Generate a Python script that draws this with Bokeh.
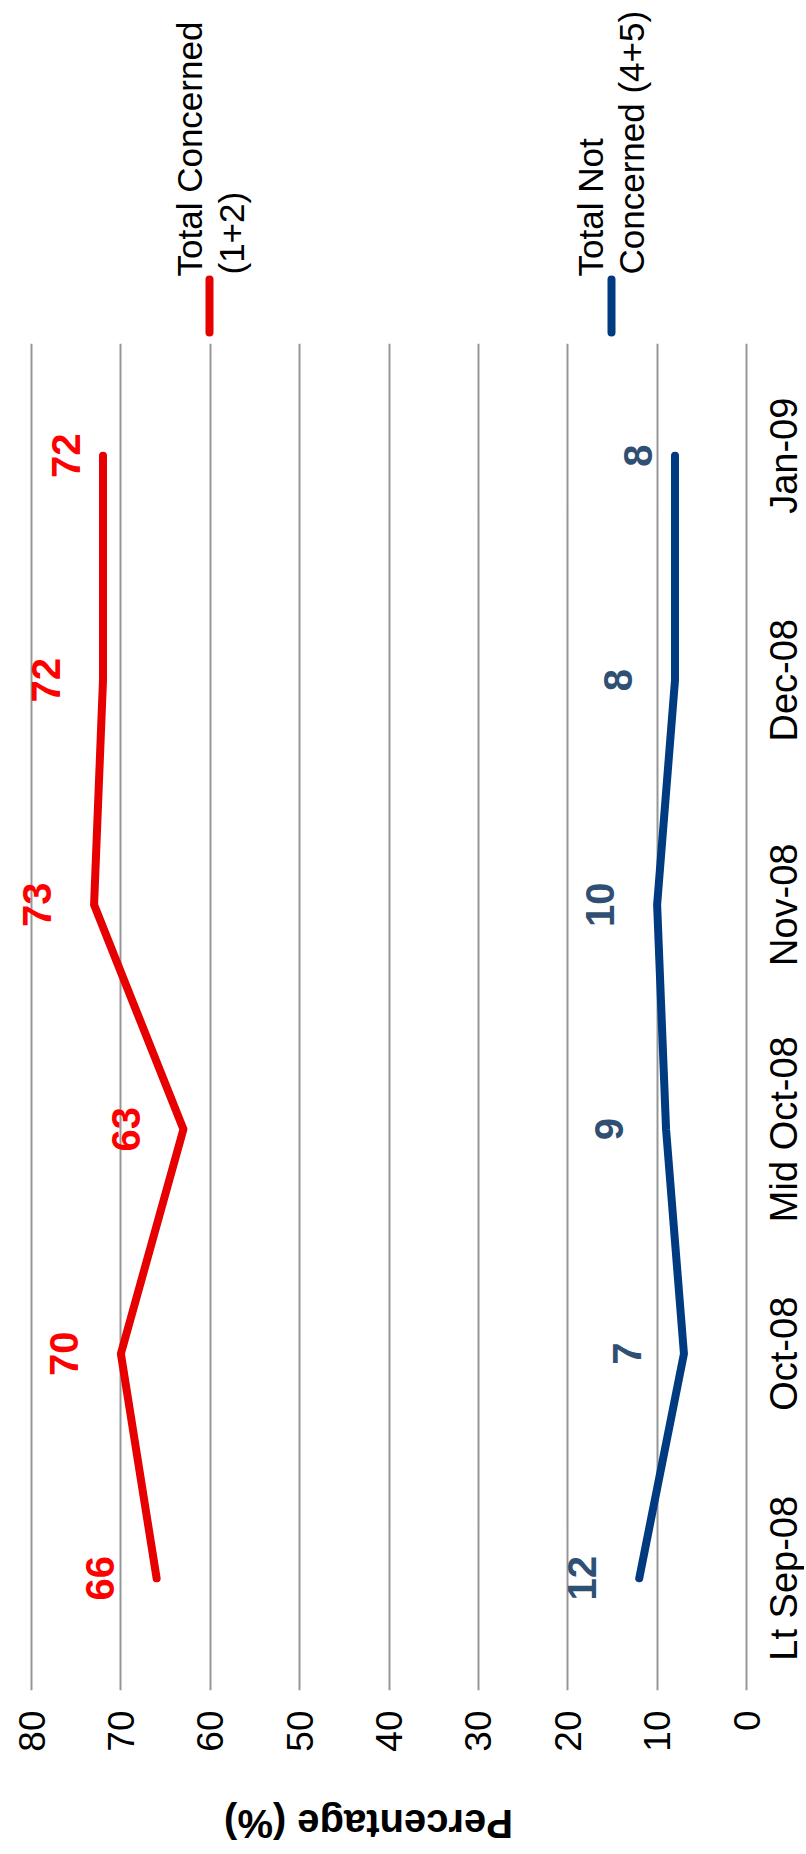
import math
from bokeh.plotting import figure
from bokeh.models import Range1d, FactorRange, FixedTicker, ColumnDataSource
from bokeh.layouts import column
from bokeh.core.properties import value
from bokeh.embed import file_html
from bokeh.resources import INLINE

# ---- data ----
categories = ["Lt Sep-08", "Oct-08", "Mid Oct-08", "Nov-08", "Dec-08", "Jan-09"]
concerned = [66, 70, 63, 73, 72, 72]
not_concerned = [12, 7, 9, 10, 8, 8]
value_ticks = [0, 10, 20, 30, 40, 50, 60, 70, 80]
legend_red = ["Total Concerned", "(1+2)"]
legend_blue = ["Total Not", "Concerned (4+5)"]
axis_title = "Percentage (%)"

# ---- style ----
FONT = "Liberation Sans"
RED_LINE = "#E60000"
RED_TEXT = "#FF0000"
BLUE_LINE = "#003A80"
BLUE_TEXT = "#2F5073"
GRID = "#969696"
HALF_PI = math.pi / 2
PAGE_W = 804
X80 = 31           # canvas x of the "80" gridline
ZERO = 746         # canvas x of the "0" gridline


def strip(height, y_top, y_bottom):
    """A figure without axes whose data coordinates equal canvas pixels."""
    f = figure(width=PAGE_W, height=height,
               x_range=Range1d(0, PAGE_W), y_range=Range1d(y_bottom, y_top),
               x_axis_location=None, y_axis_location=None, toolbar_location=None,
               output_backend="svg", min_border=0, outline_line_color=None)
    f.grid.visible = False
    return f


# ---- legend strip (top) ----
leg = strip(343, 0, 343)
leg.segment(x0=[209, 611], y0=[332, 332], x1=[209, 611], y1=[279, 279],
            line_color=[RED_LINE, BLUE_LINE], line_width=8, line_cap="round")
leg.text(x=[189, 231, 590, 631], y=[276, 274, 276, 274],
         text=[legend_red[0], legend_red[1], legend_blue[0], legend_blue[1]],
         angle=HALF_PI, text_align="left", text_baseline="middle",
         text_color="black", text_font=value(FONT), text_font_size="35px")

# ---- main plot ----
# the frame spans the full width so that labels beyond the 0..80 gridlines stay visible
px_per_unit = (ZERO - X80) / 80.0
x_start = 80 + X80 / px_per_unit
x_end = -(PAGE_W - ZERO) / px_per_unit

p = figure(frame_width=PAGE_W, frame_height=1347,
           x_range=Range1d(x_start, x_end), y_range=FactorRange(factors=categories),
           x_axis_location="below", y_axis_location=None,
           toolbar_location=None, output_backend="svg",
           min_border_left=0, min_border_right=0, min_border_top=0, min_border_bottom=70,
           outline_line_color=None, background_fill_color="white")

ticker = FixedTicker(ticks=value_ticks)
p.xaxis.ticker = ticker
p.xgrid.ticker = ticker
p.xgrid.grid_line_color = GRID
p.xgrid.grid_line_width = 2
p.ygrid.visible = False

p.xaxis.axis_line_color = None
p.xaxis.major_tick_line_color = None
p.xaxis.minor_tick_line_color = None
p.xaxis.major_tick_out = 0
p.xaxis.major_label_orientation = HALF_PI
p.xaxis.major_label_standoff = 20
p.xaxis.major_label_text_font = FONT
p.xaxis.major_label_text_font_size = "37px"
p.xaxis.major_label_text_color = "black"

label_gap = [-57, -57, -57, -57, -57, -37]
src = ColumnDataSource(dict(
    cat=categories, c=concerned, n=not_concerned,
    c_lbl=[str(v) for v in concerned], n_lbl=[str(v) for v in not_concerned],
    off=label_gap, base=[value_ticks[0]] * len(categories)))

p.line(x="c", y="cat", source=src, line_color=RED_LINE, line_width=8,
       line_join="round", line_cap="round")
p.line(x="n", y="cat", source=src, line_color=BLUE_LINE, line_width=8,
       line_join="round", line_cap="round")

p.text(x="c", y="cat", text="c_lbl", source=src, angle=HALF_PI, x_offset="off",
       text_align="center", text_baseline="middle", text_color=RED_TEXT,
       text_font=value(FONT), text_font_size="40px", text_font_style="bold")
p.text(x="n", y="cat", text="n_lbl", source=src, angle=HALF_PI, x_offset="off",
       text_align="center", text_baseline="middle", text_color=BLUE_TEXT,
       text_font=value(FONT), text_font_size="40px", text_font_style="bold")

# category labels beside the zero line (the original category axis)
p.text(x="base", y="cat", text="cat", source=src, angle=HALF_PI, x_offset=37,
       text_align="center", text_baseline="middle", text_color="black",
       text_font=value(FONT), text_font_size="38px")

# ---- axis title strip (bottom), upside-down as in the rotated original ----
tf = strip(92, 1760, 1852)
tf.text(x=[368], y=[1823], text=[axis_title], angle=math.pi,
        text_align="center", text_baseline="middle", text_color="black",
        text_font=value(FONT), text_font_size="40px", text_font_style="bold")

layout = column(leg, p, tf, spacing=0)
open("out.html", "w").write(file_html(layout, INLINE))
